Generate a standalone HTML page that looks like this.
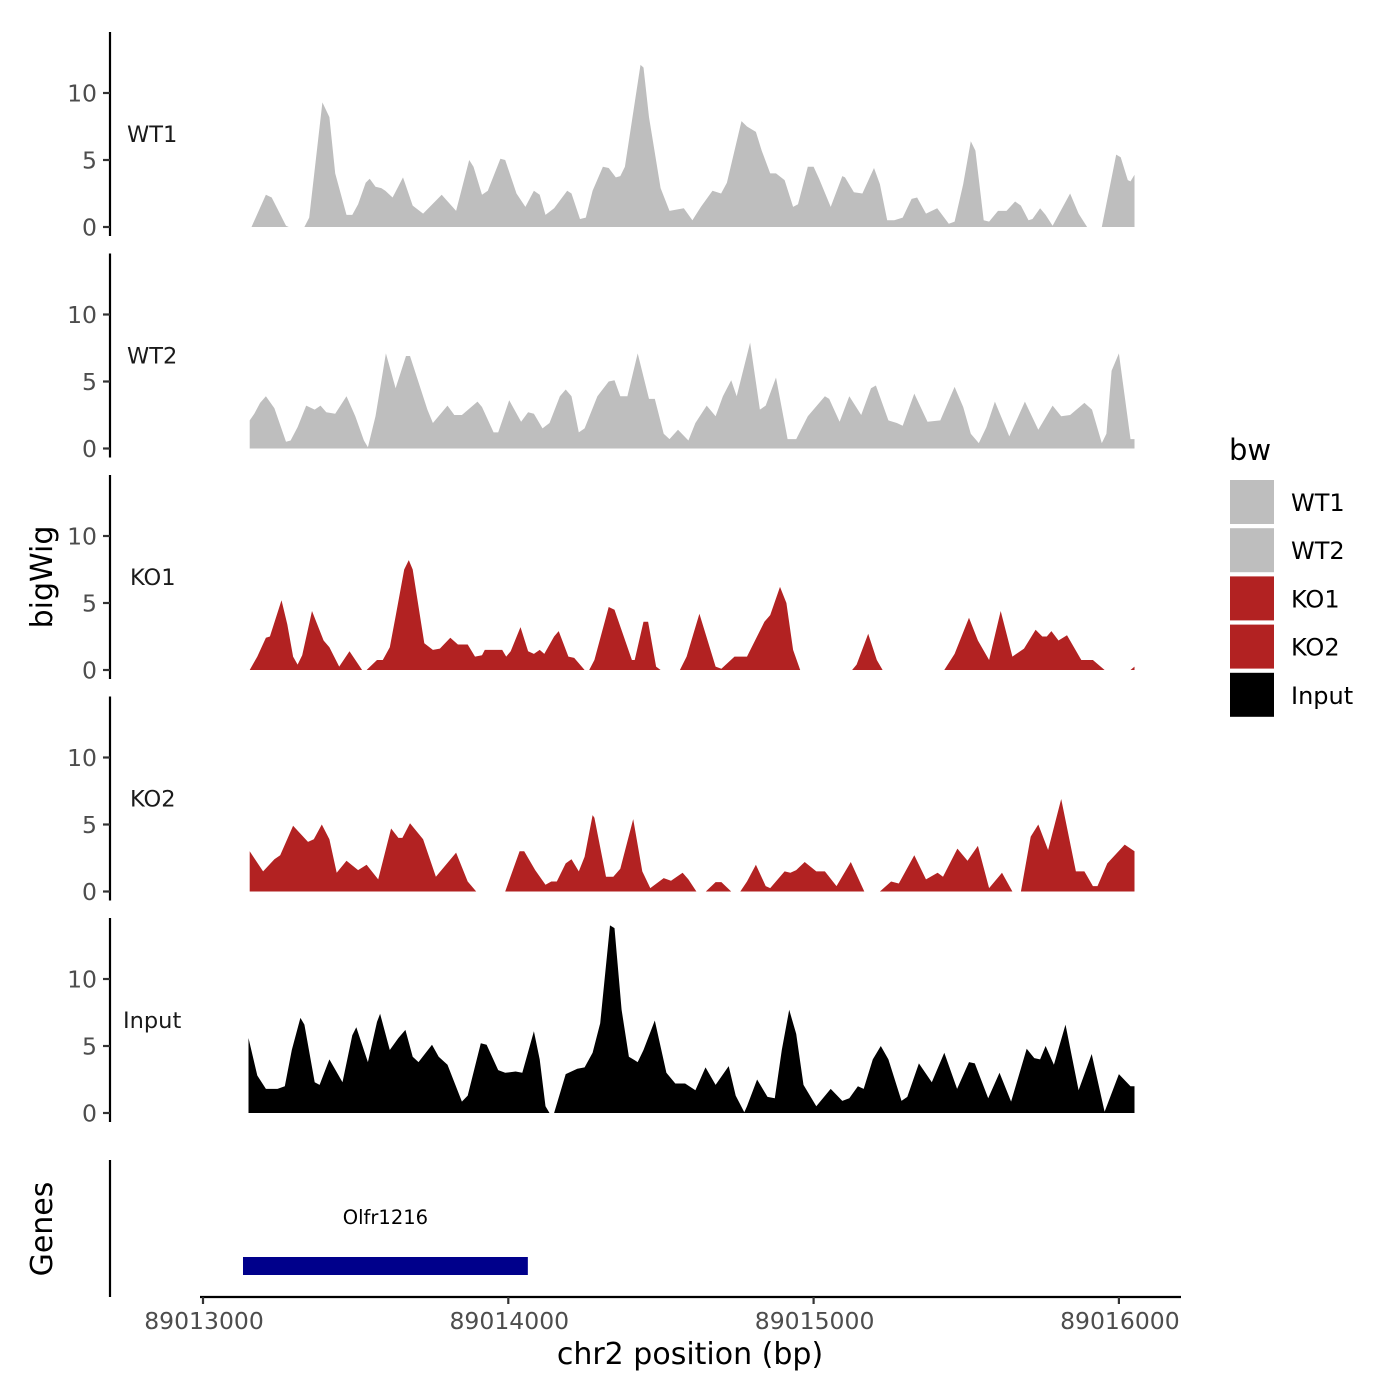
<!DOCTYPE html>
<html>
<head>
<meta charset="utf-8">
<style>
html,body{margin:0;padding:0;background:#fff;}
svg{display:block;}
text{font-family:"DejaVu Sans","Liberation Sans",sans-serif;}
</style>
</head>
<body>
<svg id="chart" width="1400" height="1400" viewBox="0 0 1400 1400" xmlns="http://www.w3.org/2000/svg"></svg>
<script>
// Data: positions are bp offsets from REGION_START; null = gap in coverage
const REGION_START = 89013000;
const trackNames = ["WT1","WT2","KO1","KO2","Input"];
const trackColors = ["#bebebe","#bebebe","#b22222","#b22222","#000000"];
const xTicks = [89013000, 89014000, 89015000, 89016000];
const yTicks = [0, 5, 10];

const wt1Pos = [159,206,225,272,281,null,332,348,391,414,433,470,489,508,533,546,565,584,597,621,655,687,721,782,829,872,886,914,933,974,990,1027,1056,1084,1103,1122,1150,1193,1207,1235,1254,1276,1310,1329,1352,1367,1382,1433,1443,1461,1499,1528,1575,1603,1631,1669,1697,1716,1764,1782,1811,1830,1858,1877,1905,1933,1949,1981,2000,2018,2056,2094,2103,2132,2160,2198,2217,2241,2264,2292,2321,2339,2368,2405,2443,2462,2490,2515,2530,2557,2575,2604,2632,2660,2679,2704,2717,2742,2760,2783,2840,2868,2896,null,2944,2991,3006,3029,3038,3051];
const wt1Val = [0,2.4,2.2,0.1,0,null,0,0.7,9.3,8.2,4.0,0.9,0.9,1.7,3.3,3.6,3.0,2.9,2.7,2.2,3.7,1.6,1.0,2.4,1.2,5.0,4.5,2.4,2.7,5.1,5.0,2.5,1.5,2.7,2.4,0.9,1.4,2.7,2.5,0.6,0.7,2.7,4.5,4.4,3.7,3.8,4.5,12.1,11.9,8.2,2.9,1.2,1.4,0.5,1.5,2.7,2.5,3.3,7.9,7.5,7.1,5.7,4.0,4.0,3.5,1.5,1.7,4.5,4.5,3.6,1.5,3.8,3.7,2.6,2.5,4.4,3.2,0.5,0.5,0.7,2.1,2.2,1.0,1.4,0.25,0.4,3.2,6.4,5.7,0.5,0.4,1.2,1.2,1.9,1.6,0.5,0.6,1.4,0.9,0.1,2.5,1.0,0,null,0,5.4,5.2,3.5,3.4,3.9];

const wt2Pos = [153,168,187,206,234,272,287,310,338,366,385,404,433,470,499,527,540,565,599,631,665,678,735,753,801,823,848,899,914,952,967,1003,1042,1065,1084,1112,1135,1169,1188,1207,1231,1250,1292,1329,1348,1367,1390,1424,1461,1480,1509,1528,1556,1590,1613,1650,1679,1703,1730,1748,1792,1824,1843,1877,1915,1943,1981,2037,2051,2085,2117,2156,2188,2204,2245,2273,2292,2330,2373,2415,2462,2490,2515,2541,2566,2594,2641,2692,2736,2783,2811,2840,2887,2912,2944,2959,2976,3000,3038,3051];
const wt2Val = [2.1,2.6,3.4,3.9,3.0,0.5,0.6,1.6,3.2,2.9,3.2,2.7,2.6,3.9,2.4,0.6,0.1,2.4,7.1,4.5,6.9,6.9,2.9,1.9,3.2,2.5,2.5,3.5,3.1,1.2,1.2,3.6,2.0,2.7,2.6,1.5,1.9,3.9,4.4,3.9,1.2,1.5,3.9,5.0,5.1,3.9,3.9,7.1,3.7,3.7,1.1,0.7,1.4,0.6,1.9,3.2,2.4,3.9,5.1,3.9,7.9,2.9,3.2,5.3,0.7,0.7,2.4,3.9,3.7,2.0,3.9,2.5,4.5,4.7,2.1,1.9,1.7,4.1,2.0,2.1,4.6,3.1,1.1,0.4,1.6,3.5,0.9,3.5,1.4,3.2,2.4,2.5,3.4,2.9,0.4,1.1,5.8,7.1,0.7,0.7];

const ko1Pos = [153,178,206,219,257,276,295,310,325,357,395,414,446,480,521,null,536,570,589,612,631,659,674,687,725,753,776,810,835,867,891,914,923,980,993,1008,1040,1065,1084,1103,1118,1150,1165,1197,1216,1250,null,1265,1282,1329,1348,1405,1414,1443,1458,1484,1499,null,1562,1584,1626,1679,1698,1741,1782,1839,1858,1890,1911,1933,1956,null,2126,2141,2179,2207,2226,null,2428,2462,2509,2538,2575,2613,2651,2689,2727,2749,2764,2779,2802,2830,2877,2915,2953,null,3038,3051];
const ko1Val = [0,1.0,2.4,2.5,5.2,3.4,1.0,0.4,1.1,4.4,2.2,1.7,0.25,1.4,0,null,0,0.75,0.75,1.7,4.0,7.5,8.2,7.5,2.0,1.5,1.6,2.4,1.9,1.9,1.0,1.1,1.5,1.5,1.0,1.4,3.2,1.4,1.2,1.5,1.2,2.5,2.9,1.0,0.9,0,null,0,0.75,4.7,4.5,0.75,0.75,3.6,3.6,0.25,0,null,0,1.0,4.2,0.25,0.1,1.0,1.0,3.6,4.1,6.2,5.0,1.5,0,null,0,0.4,2.7,0.75,0,null,0,1.2,3.9,2.2,0.75,4.4,1.0,1.6,3.0,2.5,2.5,2.9,2.2,2.6,0.75,0.75,0,null,0,0.25];

const ko2Pos = [153,197,234,253,295,344,363,389,414,438,470,508,536,574,616,640,653,678,721,763,829,867,895,null,990,1037,1052,1088,1122,1141,1159,1188,1207,1231,1250,1276,1282,1320,1344,1367,1409,1439,1465,1509,1533,1571,1590,1616,null,1647,1679,1698,1730,null,1760,1782,1811,1843,1858,1905,1924,1943,1971,2009,2037,2075,2122,2166,null,2217,2254,2279,2330,2368,2406,2424,2471,2504,2538,2575,2617,2651,null,2679,2711,2736,2768,2811,2859,2887,2915,2930,2962,3019,3051];
const ko2Val = [3.0,1.5,2.4,2.7,4.9,3.7,3.9,5.0,3.9,1.4,2.3,1.6,2.0,0.9,4.7,4.0,4.0,5.1,3.9,1.1,2.9,0.75,0,null,0,3.0,3.0,1.6,0.5,0.75,0.75,2.1,2.4,1.5,2.6,5.7,5.5,1.1,1.1,1.7,5.4,1.5,0.25,1.0,0.8,1.4,0.9,0,null,0,0.7,0.7,0,null,0,0.75,2.0,0.4,0.25,1.5,1.4,1.6,2.2,1.5,1.5,0.4,2.2,0,null,0,0.75,0.6,2.7,0.9,1.4,1.1,3.2,2.3,3.4,0.25,1.4,0,null,0,4.1,5.0,3.1,6.9,1.5,1.5,0.4,0.4,2.1,3.5,3.0];

const inputPos = [149,178,206,244,268,291,319,332,366,382,414,457,489,502,540,570,580,612,640,663,687,706,750,772,801,848,867,910,929,967,990,1024,1046,1084,1103,1122,1135,null,1150,1188,1226,1250,1276,1301,1333,1348,1371,1395,1424,1443,1480,1518,1547,1579,1613,1646,1679,1722,1745,1773,1782,1815,1849,1873,1896,1920,1943,1967,2009,2056,2094,2117,2145,2164,2194,2220,2245,2288,2307,2345,2387,2428,2470,2509,2528,2572,2609,2647,2698,2723,2742,2760,2787,2825,2868,2911,2953,3000,3038,3051];
const inputVal = [5.6,2.8,1.8,1.8,2.0,4.7,7.1,6.6,2.3,2.1,4.0,2.3,5.8,6.4,3.8,6.8,7.4,4.7,5.6,6.2,4.2,3.8,5.1,4.2,3.6,0.85,1.3,5.2,5.1,3.2,3.0,3.1,3.0,6.1,4.0,0.5,0,null,0,2.9,3.3,3.4,4.5,6.7,14.0,13.8,7.7,4.2,3.8,4.7,6.9,3.0,2.2,2.2,1.7,3.4,2.1,3.5,1.3,0.05,0.5,2.5,1.2,1.1,4.7,7.7,5.9,2.1,0.5,1.8,0.9,1.1,2.0,1.8,4.0,5.0,4.0,0.9,1.2,3.7,2.3,4.5,1.8,3.8,3.7,1.1,3.0,0.85,4.8,4.1,4.0,5.0,3.6,6.6,1.7,4.4,0.1,2.9,2.0,2.0];

const trackPos = [wt1Pos, wt2Pos, ko1Pos, ko2Pos, inputPos];
const trackVal = [wt1Val, wt2Val, ko1Val, ko2Val, inputVal];

const geneName = "Olfr1216";
const geneStart = 89013131;
const geneEnd = 89014064;

// Scales
const X0 = 203, PX_PER_BP = 305.3/1000;
function xScale(bp){ return X0 + (bp - 89013000) * PX_PER_BP; }
const PANEL_ZERO = 227, PANEL_STEP = 221.5, PX_PER_UNIT = 13.4;
function yScale(panel, v){ return PANEL_ZERO + panel*PANEL_STEP - v*PX_PER_UNIT; }

const NS = "http://www.w3.org/2000/svg";
const svg = document.getElementById("chart");
function mk(tag, attrs, parent){
  const e = document.createElementNS(NS, tag);
  for (const k in attrs) e.setAttribute(k, attrs[k]);
  (parent || svg).appendChild(e);
  return e;
}

trackNames.forEach((name, i) => {
  const g = mk("g", {});
  
  
  const base = yScale(i, 0);
  const ax = mk("line", {x1:110, x2:110, y1:base-195, y2:base+9, stroke:"#000", "stroke-width":2.2}, g);
  
  
  yTicks.forEach(t => {
    const y = yScale(i, t);
    const tk = mk("line", {x1:103, x2:110, y1:y, y2:y, stroke:"#333", "stroke-width":2.2}, g);
    
    
    const tl = mk("text", {x:97, y:y+8.5, "text-anchor":"end", "font-size":23.5, fill:"#4d4d4d"}, g);
    tl.textContent = t;
    
    
  });
  const pos = trackPos[i], val = trackVal[i];
  let d = "", seg = [];
  const flush = () => {
    if (seg.length) {
      d += "M" + seg[0][0].toFixed(1) + "," + base;
      seg.forEach(p => d += "L" + p[0].toFixed(1) + "," + p[1].toFixed(1));
      d += "L" + seg[seg.length-1][0].toFixed(1) + "," + base + "Z";
    }
    seg = [];
  };
  for (let k = 0; k < pos.length; k++) {
    if (pos[k] === null || val[k] === null) { flush(); continue; }
    seg.push([xScale(REGION_START + pos[k]), yScale(i, val[k])]);
  }
  flush();
  const area = mk("path", {d:d, fill:trackColors[i]}, g);
  
  
  const lab = mk("text", {x:name === "Input" ? 123 : (name.startsWith("KO") ? 130 : 127), y:yScale(i,0)-85, "font-size":22.5, fill:"#1a1a1a"}, g);
  lab.textContent = name;
  
  
});

// Genes panel
const gAx = mk("line", {x1:110, x2:110, y1:1160, y2:1297, stroke:"#000", "stroke-width":2.2});


const gx1 = xScale(geneStart), gx2 = xScale(geneEnd);
const gb = mk("rect", {x:gx1, y:1257, width:gx2-gx1, height:18, fill:"#00008b"});


const gl = mk("text", {x:(gx1+gx2)/2, y:1224, "text-anchor":"middle", "font-size":19.5, fill:"#000"});
gl.textContent = geneName;



// X axis
const xAx = mk("line", {x1:200, x2:1181, y1:1297, y2:1297, stroke:"#000", "stroke-width":2.2});


xTicks.forEach(t => {
  const x = xScale(t);
  const tk = mk("line", {x1:x, x2:x, y1:1297, y2:1304, stroke:"#333", "stroke-width":2.2});
  
  
  const tl = mk("text", {x:x+1, y:1329, "text-anchor":"middle", "font-size":23.5, fill:"#4d4d4d"});
  tl.textContent = t;
  
  
});
const xt = mk("text", {x:690, y:1364, "text-anchor":"middle", "font-size":30, fill:"#000"});
xt.textContent = "chr2 position (bp)";



const yt = mk("text", {x:0, y:0, "text-anchor":"middle", "font-size":30, fill:"#000", transform:"translate(52,577) rotate(-90)"});
yt.textContent = "bigWig";


const gt = mk("text", {x:0, y:0, "text-anchor":"middle", "font-size":30, fill:"#000", transform:"translate(52,1229) rotate(-90)"});
gt.textContent = "Genes";



// Legend
const lg = mk("g", {});


const lt = mk("text", {x:1229, y:460, "font-size":29, fill:"#000"}, lg);
lt.textContent = "bw";


trackNames.forEach((name, i) => {
  const y = 480 + i*48.2;
  const r = mk("rect", {x:1230, y:y, width:44, height:44, fill:trackColors[i]}, lg);
  
  
  const t = mk("text", {x:1291, y:y+31, "font-size":24, fill:"#000"}, lg);
  t.textContent = name;
  
  
});
</script>
</body>
</html>
